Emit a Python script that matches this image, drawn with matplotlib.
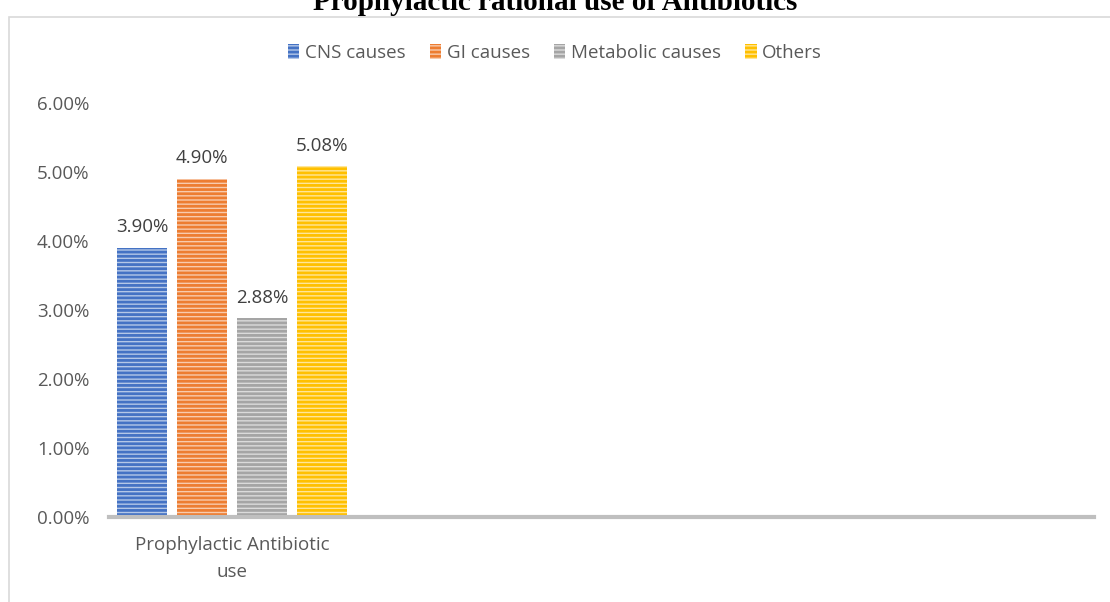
import matplotlib.pyplot as plt
import matplotlib.patches as mpatches
from matplotlib.ticker import FuncFormatter
import numpy as np

categories = ["Prophylactic Antibiotic\nuse", "", "", ""]
series = ["CNS causes", "GI causes", "Metabolic causes", "Others"]
values = [[3.90], [4.90], [2.88], [5.08]]
dark = ["#4472c4", "#ed7d31", "#a5a5a5", "#ffc000"]
light = ["#b4c7e7", "#f8cbad", "#dbdbdb", "#ffe699"]

plt.rcParams['font.family'] = ['Open Sans', 'DejaVu Sans']
plt.rcParams['hatch.linewidth'] = 2.0

fig = plt.figure(figsize=(11.1, 6.02), dpi=100)
# chart frame
fig.patches.append(mpatches.Rectangle((9 / 1110, -0.1), 1.2, 1 - 17 / 602 + 0.1,
                                      transform=fig.transFigure, fill=False,
                                      edgecolor='#d9d9d9', lw=1.2))
fig.text(0.5, 1 - 10 / 602, "Prophylactic rational use of Antibiotics",
         ha='center', va='baseline', fontsize=21, fontweight='bold',
         family='Liberation Serif', color='black')

ax = fig.add_axes([109 / 1110, 1 - 517 / 602, (1094 - 109) / 1110, (517 - 103) / 602])
x = np.arange(len(categories))
step = 0.244
width = 0.203
for i, (name, vals) in enumerate(zip(series, values)):
    xs = x[:len(vals)] + (i - 1.5) * step
    bars = ax.bar(xs, vals, width, facecolor=light[i], edgecolor=dark[i],
                  hatch='----', lw=0, label=name)
    for b, v in zip(bars, vals):
        ax.text(b.get_x() + b.get_width() / 2, v + 0.17, f"{v:.2f}%",
                ha='center', va='bottom', fontsize=13.5, color='#404040')

ax.set_xlim(-0.5, len(categories) - 0.5)
ax.set_ylim(0, 6)
ax.set_yticks(np.arange(0, 7, 1))
ax.yaxis.set_major_formatter(FuncFormatter(lambda v, p: f"{v:.2f}%"))
ax.set_xticks(x)
ax.set_xticklabels(categories, linespacing=1.6)
ax.tick_params(axis='y', length=0, pad=14, labelsize=13.5, labelcolor='#595959')
ax.tick_params(axis='x', length=0, pad=14, labelsize=13.5, labelcolor='#595959')
for s in ['left', 'right', 'top']:
    ax.spines[s].set_visible(False)
ax.spines['bottom'].set_color('#bfbfbf')
ax.spines['bottom'].set_linewidth(3)

handles = [mpatches.Patch(facecolor=light[i], edgecolor=dark[i], hatch='----', lw=0)
           for i in range(len(series))]
fig.legend(handles, series, loc='center', bbox_to_anchor=(0.5, 1 - 53 / 602),
           ncol=4, frameon=False, fontsize=13.5, labelcolor='#595959',
           handlelength=0.6, handleheight=0.9, handletextpad=0.3, columnspacing=1.3)

fig.savefig('out.png', dpi=100)
